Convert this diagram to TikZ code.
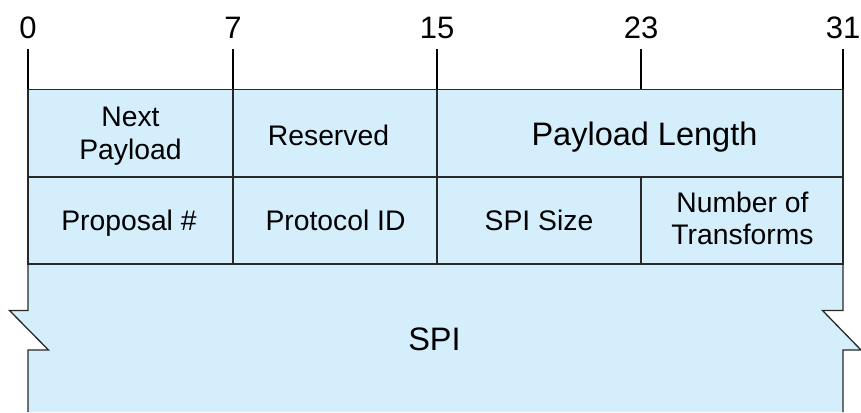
\documentclass[tikz,border=0pt]{standalone}
\usepackage{fontspec}
\setmainfont{Liberation Sans}
\usepackage{xcolor}
\usetikzlibrary{positioning}

\definecolor{fieldblue}{RGB}{212,238,252}
\definecolor{edgegray}{RGB}{40,40,40}

\begin{document}
\begin{tikzpicture}[
  x=1pt, y=-1pt,
  field/.style={inner sep=0pt, align=center, font=\fontsize{28.3}{32.5}\selectfont},
  bigfield/.style={field, font=\fontsize{32.5}{38}\selectfont},
  bitnum/.style={inner sep=0pt, anchor=base, font=\fontsize{31}{36}\selectfont},
  edge/.style={draw=edgegray, line width=1.3pt}
]
\useasboundingbox (0,0) rectangle (861,412);

% fill of the header words and the open SPI block
\fill[fieldblue] (28,89.5) rectangle (843,264);
\fill[fieldblue] (28,264) -- (843,264) -- (843,310.5) -- (822.5,310.5)
  -- (861,350) -- (843,350) -- (843,412) -- (28,412) -- (28,350)
  -- (48.5,350) -- (9.5,310.5) -- (28,310.5) -- cycle;

% bit positions
\foreach \xx/\bit in {28/0, 233/7, 437/15, 641/23, 843/31} {
  \node[bitnum] (b\bit) at (\xx,38.3) {\bit};
  \coordinate (t\bit) at (\xx,49);
  \coordinate (m\bit) at (\xx,89.5);
  \draw[line width=1.2pt] (t\bit) -- (m\bit);
}

% outline
\draw[edge] (28,89.5) rectangle (843,264);
\draw[edge] (28,177) -- (843,177);
\draw[edge] (233,89.5) -- (233,264);
\draw[edge] (437,89.5) -- (437,264);
\draw[edge] (641,177) -- (641,264);
\draw[edge] (28,264) -- (28,310.5) -- (9.5,310.5) -- (48.5,350) -- (28,350) -- (28,412);
\draw[edge] (843,264) -- (843,310.5) -- (822.5,310.5) -- (861,350) -- (843,350) -- (843,412);

% first word
\node[field] (nextp) at (130.5,136) {Next\\Payload};
\node[field, anchor=base] (resv) at (328.5,145) {Reserved};
\node[bigfield, anchor=base] (plen) at (644.5,145) {Payload Length};

% second word
\node[field, anchor=base] (propn) at (129,230) {Proposal \#};
\node[field, anchor=base] (protid) at (335.5,230) {Protocol ID};
\node[field, anchor=base] (spisz) at (539,230.5) {SPI Size};
\node[field] (ntrans) at (742.5,218.5) {Number of\\Transforms};

\node[bigfield, anchor=base] (spi) at (434.5,350.5) {SPI};
\end{tikzpicture}
\end{document}
